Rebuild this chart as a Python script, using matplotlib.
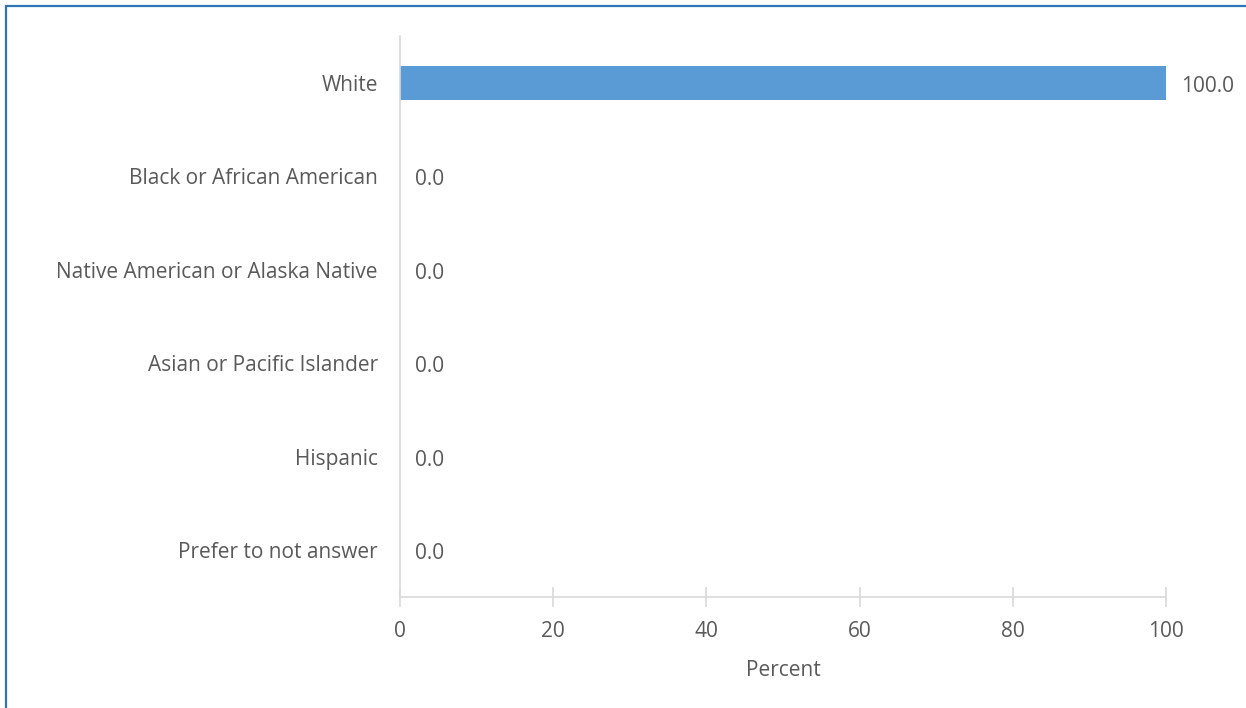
import matplotlib
matplotlib.use("Agg")
import matplotlib.pyplot as plt
from matplotlib.patches import Rectangle

categories = ["White", "Black or African American", "Native American or Alaska Native",
              "Asian or Pacific Islander", "Hispanic", "Prefer to not answer"]
values = [100.0, 0.0, 0.0, 0.0, 0.0, 0.0]
xticks = [0, 20, 40, 60, 80, 100]

W, H = 1246, 708
plt.rcParams['font.family'] = ['Open Sans', 'DejaVu Sans']
fig = plt.figure(figsize=(W / 100, H / 100), dpi=100)
text_color = "#595959"
axis_color = "#d9d9d9"
fs = 15

ax = fig.add_axes([400 / W, (H - 597) / H, (1166 - 400) / W, (597 - 36) / H])
y = list(range(len(categories)))
ax.barh(y, values, height=0.36, color="#5b9bd5", zorder=2)
ax.set_ylim(len(categories) - 0.5, -0.5)
ax.set_xlim(0, 100)
ax.set_yticks(y)
ax.set_yticklabels(categories, fontsize=fs, color=text_color)
ax.set_xticks(xticks)
ax.set_xticklabels([str(t) for t in xticks], fontsize=fs, color=text_color)
ax.tick_params(axis='y', length=0, pad=16)
ax.tick_params(axis='x', length=15, direction='inout', color=axis_color, width=1.2, pad=10)
for s in ['top', 'right']:
    ax.spines[s].set_visible(False)
for s in ['left', 'bottom']:
    ax.spines[s].set_color(axis_color)
    ax.spines[s].set_linewidth(1.2)
ax.set_xlabel("Percent", fontsize=fs, color=text_color, labelpad=13)

for yi, v in zip(y, values):
    ax.annotate(f"{v:.1f}", xy=(v, yi), xytext=(11, -2.5), textcoords='offset points',
                va='center', ha='left', fontsize=fs, color=text_color)

fig.patches.append(Rectangle((5.5 / W, -0.1), 1.2, (H - 6.5) / H + 0.1,
                             transform=fig.transFigure, fill=False,
                             edgecolor="#2e75b6", linewidth=1.6))

fig.savefig("out.png", dpi=100)
